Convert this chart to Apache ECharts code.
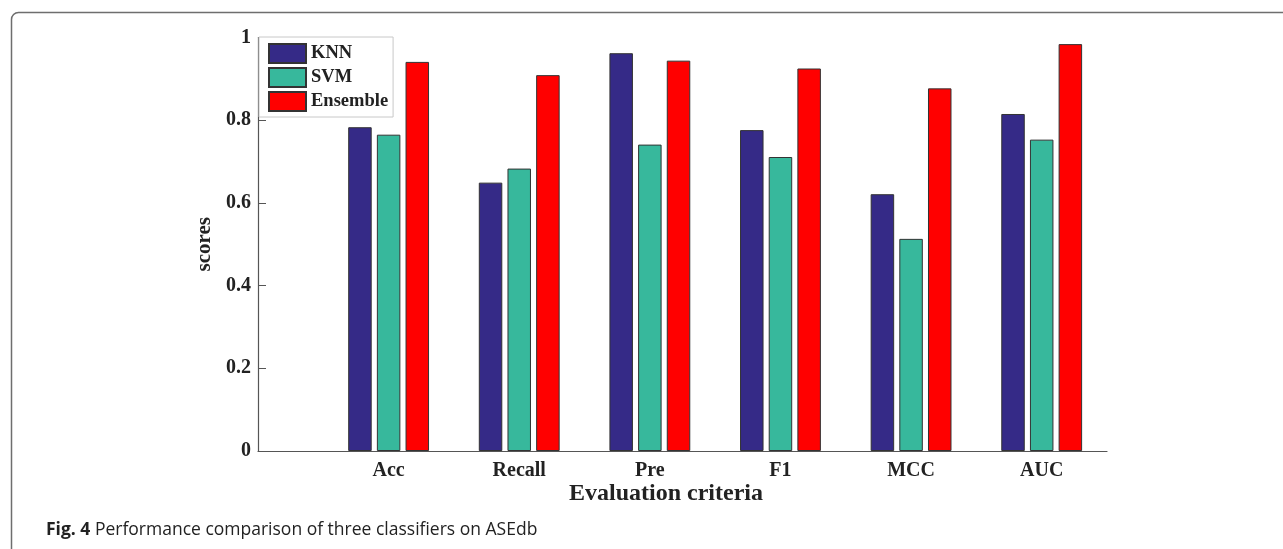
<!DOCTYPE html>
<html>
<head>
<meta charset="utf-8">
<script src="https://cdn.jsdelivr.net/npm/echarts@6/dist/echarts.min.js"></script>
<style>
  html, body { margin: 0; padding: 0; background: #fff; }
  #chart { width: 1283px; height: 549px; }
</style>
</head>
<body>
<div id="chart"></div>
<script>
// Evaluation criteria on the x axis
const criteria = ['Acc', 'Recall', 'Pre', 'F1', 'MCC', 'AUC'];
// Scores per classifier
const knn      = [0.783, 0.649, 0.962, 0.776, 0.621, 0.815];
const svm      = [0.765, 0.683, 0.741, 0.711, 0.513, 0.753];
const ensemble = [0.941, 0.909, 0.944, 0.925, 0.877, 0.984];
const seriesNames = ['KNN', 'SVM', 'Ensemble'];
const yTicks = [0, 0.2, 0.4, 0.6, 0.8, 1];

const serif = '"Liberation Serif", "Times New Roman", serif';
const colors = ['#352a87', '#37b89c', '#ff0000'];

const chart = echarts.init(document.getElementById('chart'), null, { renderer: 'canvas' });

function barSeries(name, values, color) {
  return {
    name: name,
    type: 'bar',
    barWidth: 23.5,
    barGap: '22%',
    data: values.map((v, i) => [i + 1, v]),
    itemStyle: { color: color, borderColor: '#333', borderWidth: 1 }
  };
}

chart.setOption({
  animation: false,
  backgroundColor: '#fff',
  grid: { left: 258, right: 176, top: 37.5, bottom: 98, outerBoundsMode: 'none' },
  legend: {
    data: seriesNames,
    orient: 'vertical',
    left: 259,
    top: 37,
    align: 'left',
    backgroundColor: '#fff',
    borderColor: '#c8c8c8',
    borderWidth: 1,
    padding: [6, 5, 5, 9],
    itemWidth: 37,
    itemHeight: 19,
    itemGap: 3,
    icon: 'rect',
    textStyle: { fontFamily: serif, fontWeight: 'bold', fontSize: 18.5, color: '#222' }
  },
  xAxis: {
    type: 'value',
    min: 0,
    max: 6.5,
    interval: 1,
    axisLine: { lineStyle: { color: '#555', width: 1.2 } },
    axisTick: { show: false },
    splitLine: { show: false },
    axisLabel: {
      margin: 10,
      fontFamily: serif, fontWeight: 'bold', fontSize: 20, color: '#222',
      formatter: v => criteria[v - 1] || ''
    }
  },
  yAxis: {
    type: 'value',
    min: 0,
    max: 1,
    interval: 0.2,
    name: 'scores',
    nameLocation: 'middle',
    nameRotate: 90,
    nameGap: 42,
    nameTextStyle: { fontFamily: serif, fontWeight: 'bold', fontSize: 21, color: '#222' },
    axisLine: { show: true, lineStyle: { color: '#555', width: 1.2 } },
    axisTick: { show: true, inside: true, length: 8, lineStyle: { color: '#555' } },
    splitLine: { show: false },
    axisLabel: {
      margin: 7,
      fontFamily: serif, fontWeight: 'bold', fontSize: 20, color: '#222',
      formatter: v => {
        const t = yTicks.find(y => Math.abs(y - v) < 1e-6);
        return t === undefined ? '' : String(t);
      }
    }
  },
  graphic: [
    {
      type: 'rect',
      shape: { x: 11.5, y: 12.5, width: 1400, height: 700, r: 7 },
      style: { fill: 'none', stroke: '#6e6e6e', lineWidth: 1.5 },
      silent: true
    },
    {
      type: 'text',
      x: 666, y: 494,
      style: {
        text: 'Evaluation criteria',
        font: 'bold 24px ' + serif,
        fill: '#222',
        align: 'center',
        verticalAlign: 'middle'
      }
    },
    {
      type: 'text',
      x: 46, y: 530,
      style: {
        text: '{b|Fig. 4} Performance comparison of three classifiers on ASEdb',
        font: '17.5px "Open Sans", sans-serif',
        fill: '#222',
        verticalAlign: 'middle',
        rich: {
          b: { fontFamily: '"Open Sans", sans-serif', fontWeight: 'bold', fontSize: 17.5, fill: '#222' }
        }
      }
    }
  ],
  series: [
    barSeries(seriesNames[0], knn, colors[0]),
    barSeries(seriesNames[1], svm, colors[1]),
    barSeries(seriesNames[2], ensemble, colors[2])
  ]
});
</script>
</body>
</html>
